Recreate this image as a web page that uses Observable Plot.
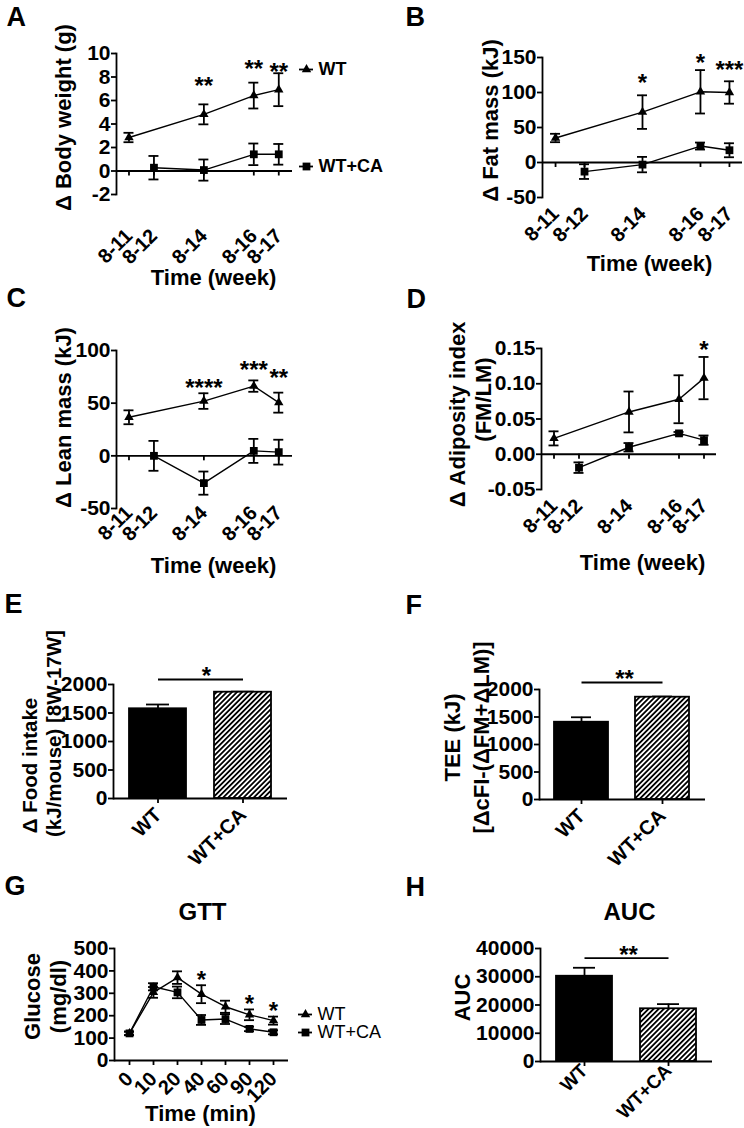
<!DOCTYPE html>
<html><head><meta charset="utf-8">
<script src="https://cdn.jsdelivr.net/npm/d3@7"></script>
<script src="https://cdn.jsdelivr.net/npm/@observablehq/plot@0.6"></script>
<style>
body{margin:0;background:#fff;}
#root{position:relative;width:744px;height:1128px;overflow:hidden;background:#fff;}
</style></head><body><div id="root"></div>
<script>
// ---------- DATA ----------
const timeLabels = ["8-11", "8-12", "8-14", "8-16", "8-17"];
const timeWeeks = [11, 12, 14, 16, 17];
const wtWeeks = [11, 14, 16, 17];
const caWeeks = [12, 14, 16, 17];
const seriesNames = ["WT", "WT+CA"];

// A: body weight (g)
const bodyWT = [2.85, 4.82, 6.42, 6.92];
const bodyWTsem = [0.4, 0.85, 1.1, 1.4];
const bodyCA = [0.28, 0.08, 1.42, 1.42];
const bodyCAsem = [1.0, 0.9, 0.92, 0.88];
const bodySigWeeks = [14, 16, 17];
const bodySigText = ["**", "**", "**"];
const bodySigY = [7.7, 9.15, 8.95];

// B: fat mass (kJ)
const fatWT = [35, 72, 101, 100];
const fatWTsem = [6, 24, 31, 16];
const fatCA = [-13, -3, 23.5, 17.5];
const fatCAsem = [10.5, 11, 5, 10];
const fatSigWeeks = [14, 16, 17];
const fatSigText = ["*", "*", "***"];
const fatSigY = [121, 150, 140];

// C: lean mass (kJ)
const leanWT = [36.6, 52, 66.2, 50.5];
const leanWTsem = [6.6, 7.4, 5.4, 9.5];
const leanCA = [0, -25.9, 4.7, 3.5];
const leanCAsem = [14.2, 11, 11.4, 11.8];
const leanSigWeeks = [14, 16, 17];
const leanSigText = ["****", "***", "**"];
const leanSigY = [69.4, 87, 79];

// D: adiposity index
const adipWT = [0.0225, 0.060, 0.078, 0.108];
const adipWTsem = [0.01, 0.029, 0.034, 0.03];
const adipCA = [-0.019, 0.0099, 0.0296, 0.020];
const adipCAsem = [0.0075, 0.006, 0.002, 0.0066];
const adipSigWeeks = [17];
const adipSigText = ["*"];
const adipSigY = [0.156];

// E: food intake
const foodVals = [1574, 1865];
const foodSems = [75, 10];
const foodSigText = "*";
const foodSigY = 2088;

// F: TEE
const teeVals = [1405, 1860];
const teeSems = [90, 12];
const teeSigText = "**";
const teeSigY = 2127;

// G: GTT
const gttTimes = [0, 10, 20, 40, 60, 90, 120];
const gttWT = [121, 304, 370, 296, 240, 204, 178];
const gttWTsem = [8, 24, 28, 40, 27, 24, 18];
const gttCA = [121, 329, 304, 181, 185, 141, 126];
const gttCAsem = [8, 16, 26, 22, 22, 10, 9];
const gttSigTimes = [40, 90, 120];
const gttSigText = ["*", "*", "*"];
const gttSigY = [385, 278, 247];

// H: AUC
const aucVals = [30180, 18660];
const aucSems = [3000, 1650];
const aucSigText = "**";
const aucSigY = 36620;

// ---------- LAYOUT ----------
const root = document.getElementById("root");
const FONT = '"Liberation Sans", Arial, Helvetica, sans-serif';
const SW = 1.8;
const YTICK_FS = 21;
const XTICK_FS = 20;

const PA = {left:0, top:0, w:372, h:280, ml:116, mr:80, mt:53, mb:86};
const PB = {left:372, top:0, w:372, h:280, ml:170, mr:2, mt:57, mb:83};
const PC = {left:0, top:280, w:372, h:280, ml:116, mr:80, mt:70, mb:52};
const PD = {left:372, top:280, w:372, h:280, ml:169, mr:28, mt:68, mb:71};
const PE = {left:0, top:560, w:372, h:280, ml:113, mr:85, mt:124, mb:42};
const PF = {left:372, top:560, w:372, h:280, ml:167, mr:39, mt:129, mb:41};
const PG = {left:0, top:840, w:372, h:288, ml:114, mr:84, mt:108, mb:68};
const PH = {left:372, top:840, w:372, h:288, ml:168, mr:32, mt:108, mb:67};

function mount(p, options) {
  const svg = Plot.plot({
    width: p.w, height: p.h,
    marginLeft: p.ml, marginRight: p.mr, marginTop: p.mt, marginBottom: p.mb,
    style: {fontFamily: FONT, fontWeight: "bold", fontSize: "20px", background: "transparent", overflow: "visible", color: "#000"},
    ...options
  });
  svg.style.position = "absolute";
  svg.style.left = p.left + "px";
  svg.style.top = p.top + "px";
  root.appendChild(svg);
}

// text placed at page position (X, Y)
function label(p, str, X, Y, o = {}) {
  return Plot.text([str], {text: d => d, frameAnchor: "top-left",
    dx: X - p.left - p.ml, dy: Y - p.top - p.mt,
    textAnchor: "middle", lineAnchor: "middle", fontSize: 22, ...o});
}
function ylabel(p, str, X, Y, o = {}) {
  return label(p, str, X, Y, {rotate: -90, ...o});
}
function letter(p, str, X, Y) {
  return label(p, str, X, Y, {textAnchor: "start", fontSize: 27});
}
function legendEntry(p, X, Y, symbol, r, text, weight) {
  const FL = p.left + p.ml, FR = p.left + p.w - p.mr, FM = p.top + (p.mt + p.h - p.mb) / 2;
  return [
    Plot.ruleY([0], {y: null, insetLeft: X - 7 - FL, insetRight: FR - (X + 7), dy: Y - FM, strokeWidth: SW}),
    Plot.dot([0], {frameAnchor: "top-left", dx: X - p.left - p.ml, dy: Y - p.top - p.mt, symbol, r, fill: "black"}),
    label(p, text, X + 12, Y, {textAnchor: "start", fontSize: 18, fontWeight: weight})
  ];
}
function rows(xs, ys, es) { return xs.map((x, i) => ({x, y: ys[i], e: es[i]})); }
function errorMarks(rs, cap) {
  return [
    Plot.ruleX(rs, {x: "x", y1: d => d.y - d.e, y2: d => d.y + d.e, strokeWidth: SW}),
    Plot.ruleY(rs, {x1: "x", x2: "x", y: d => d.y + d.e, insetLeft: -cap, insetRight: -cap, strokeWidth: SW}),
    Plot.ruleY(rs, {x1: "x", x2: "x", y: d => d.y - d.e, insetLeft: -cap, insetRight: -cap, strokeWidth: SW})
  ];
}
function seriesMarks(wt, ca) {
  return [
    ...errorMarks(wt, 5), ...errorMarks(ca, 5),
    Plot.line(wt, {x: "x", y: "y", strokeWidth: 1.4}),
    Plot.line(ca, {x: "x", y: "y", strokeWidth: 1.4}),
    Plot.dot(wt, {x: "x", y: "y", symbol: "triangle", r: 3.5, fill: "black"}),
    Plot.dot(ca, {x: "x", y: "y", symbol: "square", r: 4.4, fill: "black"})
  ];
}
const intFmt = d => String(d);
function yAxis(ticks, fmt) {
  return [
    Plot.frame({anchor: "left", strokeWidth: SW}),
    Plot.axisY({ticks, tickFormat: fmt || intFmt, tickSize: 5, tickPadding: 1, fontSize: YTICK_FS, strokeWidth: SW, label: null})
  ];
}

function linePanel(p, cfg) {
  const wt = rows(wtWeeks, cfg.wt, cfg.wtSem);
  const ca = rows(caWeeks, cfg.ca, cfg.caSem);
  const sig = cfg.sigWeeks.map((w, i) => ({x: w, t: cfg.sigText[i], y: cfg.sigY[i]}));
  mount(p, {
    x: {domain: cfg.xDomain},
    y: {domain: cfg.yDomain},
    marks: [
      Plot.ruleY([0], {strokeWidth: SW}),
      Plot.ruleX(timeWeeks, {x: d => d, y1: 0, y2: 0, insetBottom: -5, strokeWidth: SW}),
      ...seriesMarks(wt, ca),
      ...yAxis(cfg.yTicks, cfg.yFormat),
      Plot.axisX({ticks: timeWeeks, tickFormat: w => timeLabels[timeWeeks.indexOf(w)], tickSize: 0, tickPadding: cfg.xPad, tickRotate: -45, fontSize: XTICK_FS, label: null}),
      Plot.text(sig, {x: "x", y: "y", text: "t", fontSize: 24, dy: 6, dx: cfg.sigDx || 0, lineAnchor: "middle"}),
      ...cfg.extra
    ]
  });
}

function hatchDefs(id) {
  const T = 3.6;
  const defs = d3.create("svg:defs");
  const pat = defs.append("pattern").attr("id", id).attr("patternUnits", "userSpaceOnUse")
    .attr("width", T).attr("height", T).attr("patternTransform", "rotate(45)");
  pat.append("rect").attr("width", T).attr("height", T).attr("fill", "white");
  pat.append("line").attr("x1", T / 2).attr("y1", 0).attr("x2", T / 2).attr("y2", T).attr("stroke", "black").attr("stroke-width", 1.8);
  return defs.node();
}

function barPanel(p, cfg) {
  const data = seriesNames.map((g, i) => ({g, v: cfg.vals[i], e: cfg.sems[i]}));
  const hid = "hatch-" + cfg.id;
  mount(p, {
    x: {type: "band", domain: seriesNames, paddingInner: 0.33, paddingOuter: 0.18},
    y: {domain: cfg.yDomain},
    marks: [
      () => hatchDefs(hid),
      Plot.ruleX(data, {x: "g", y1: "v", y2: d => d.v + d.e, strokeWidth: SW}),
      Plot.ruleY(data, {x1: "g", x2: "g", y: d => d.v + d.e, insetLeft: 17, insetRight: 17, strokeWidth: SW}),
      Plot.barY(data.filter(d => d.g === seriesNames[0]), {x: "g", y: "v", fill: "black", stroke: "black", strokeWidth: SW}),
      Plot.barY(data.filter(d => d.g !== seriesNames[0]), {x: "g", y: "v", fill: `url(#${hid})`, stroke: "black", strokeWidth: SW}),
      Plot.ruleY([0], {strokeWidth: SW}),
      ...yAxis(cfg.yTicks),
      Plot.axisX({tickSize: 5, tickPadding: cfg.xPad, tickRotate: -45, fontSize: cfg.xFs || XTICK_FS, strokeWidth: SW, label: null}),
      Plot.link([cfg.sigY], {x1: () => seriesNames[0], x2: () => seriesNames[1], y1: d => d, y2: d => d, strokeWidth: SW}),
      Plot.text([cfg.sigText], {text: d => d, y: () => cfg.sigY, frameAnchor: "top", dx: cfg.sigDx, dy: -3, textAnchor: "middle", lineAnchor: "middle", fontSize: 24}),
      ...cfg.extra
    ]
  });
}

// ---------- PANELS ----------
linePanel(PA, {
  xDomain: [10.5, 17.55], yDomain: [-2, 10], yTicks: [-2, 0, 2, 4, 6, 8, 10], xPad: 38,
  wt: bodyWT, wtSem: bodyWTsem, ca: bodyCA, caSem: bodyCAsem,
  sigWeeks: bodySigWeeks, sigText: bodySigText, sigY: bodySigY,
  extra: [
    letter(PA, "A", 6, 17),
    ylabel(PA, "Δ Body weight (g)", 63, 117),
    label(PA, "Time (week)", 213, 277),
    ...legendEntry(PA, 306, 69, "triangle", 3.5, seriesNames[0], "bold"),
    ...legendEntry(PA, 306, 166, "square", 4.4, seriesNames[1], "bold")
  ]
});

linePanel(PB, {
  xDomain: [10.55, 17.45], yDomain: [-50, 150], yTicks: [-50, 0, 50, 100, 150], xPad: 13,
  wt: fatWT, wtSem: fatWTsem, ca: fatCA, caSem: fatCAsem,
  sigWeeks: fatSigWeeks, sigText: fatSigText, sigY: fatSigY, sigDx: 0,
  extra: [
    letter(PB, "B", 405, 17),
    ylabel(PB, "Δ Fat mass (kJ)", 490, 120),
    label(PB, "Time (week)", 649, 263)
  ]
});

linePanel(PC, {
  xDomain: [10.5, 17.55], yDomain: [-50, 100], yTicks: [-50, 0, 50, 100], xPad: 1,
  wt: leanWT, wtSem: leanWTsem, ca: leanCA, caSem: leanCAsem,
  sigWeeks: leanSigWeeks, sigText: leanSigText, sigY: leanSigY,
  extra: [
    letter(PC, "C", 6, 298),
    ylabel(PC, "Δ Lean mass (kJ)", 63, 417),
    label(PC, "Time (week)", 213, 565)
  ]
});

linePanel(PD, {
  xDomain: [10.5, 17.5], yDomain: [-0.05, 0.15], yTicks: [-0.05, 0, 0.05, 0.10, 0.15], yFormat: d => d.toFixed(2), xPad: 13,
  wt: adipWT, wtSem: adipWTsem, ca: adipCA, caSem: adipCAsem,
  sigWeeks: adipSigWeeks, sigText: adipSigText, sigY: adipSigY,
  extra: [
    letter(PD, "D", 406, 299),
    ylabel(PD, "Δ Adiposity index", 457, 414),
    ylabel(PD, "(FM/LM)", 483, 399),
    label(PD, "Time (week)", 642, 562)
  ]
});

barPanel(PE, {
  id: "e", vals: foodVals, sems: foodSems, yDomain: [0, 2000], yTicks: [0, 500, 1000, 1500, 2000],
  sigText: foodSigText, sigY: foodSigY, sigDx: 6, xPad: 8,
  extra: [
    letter(PE, "E", 4, 604),
    ylabel(PE, "Δ Food intake", 30, 765, {fontSize: 20.5}),
    ylabel(PE, "(kJ/mouse) [8W-17W]", 54, 733, {fontSize: 20.5})
  ]
});

barPanel(PF, {
  id: "f", vals: teeVals, sems: teeSems, yDomain: [0, 2000], yTicks: [0, 500, 1000, 1500, 2000],
  sigText: teeSigText, sigY: teeSigY, sigDx: 2, xPad: 8,
  extra: [
    letter(PF, "F", 405, 605),
    ylabel(PF, "TEE (kJ)", 452, 737),
    ylabel(PF, "[ΔcFI-(ΔFM+ΔLM)]", 481, 737)
  ]
});

// G: GTT
(function () {
  const wt = rows(gttTimes, gttWT, gttWTsem);
  const ca = rows(gttTimes, gttCA, gttCAsem);
  const sig = gttSigTimes.map((t, i) => ({x: t, t: gttSigText[i], y: gttSigY[i]}));
  mount(PG, {
    x: {type: "point", domain: gttTimes, padding: 0.57},
    y: {domain: [0, 500]},
    marks: [
      ...seriesMarks(wt, ca),
      Plot.ruleY([0], {strokeWidth: SW}),
      ...yAxis([0, 100, 200, 300, 400, 500]),
      Plot.axisX({tickFormat: intFmt, tickSize: 5, tickPadding: 10, tickRotate: -45, fontSize: XTICK_FS, strokeWidth: SW, label: null}),
      Plot.text(sig, {x: "x", y: "y", text: "t", fontSize: 24, dy: 6, lineAnchor: "middle"}),
      letter(PG, "G", 4, 886),
      label(PG, "GTT", 202, 912, {fontSize: 24}),
      ylabel(PG, "Glucose", 32, 996),
      ylabel(PG, "(mg/dl)", 58, 996),
      label(PG, "Time (min)", 200, 1113),
      ...legendEntry(PG, 305, 1014, "triangle", 3.5, seriesNames[0], "normal"),
      ...legendEntry(PG, 305, 1032, "square", 4.4, seriesNames[1], "normal")
    ]
  });
})();

barPanel(PH, {
  id: "h", vals: aucVals, sems: aucSems, yDomain: [0, 40000], yTicks: [0, 10000, 20000, 30000, 40000],
  sigText: aucSigText, sigY: aucSigY, sigDx: 2, xPad: 1, xFs: 19,
  extra: [
    letter(PH, "H", 405, 887),
    label(PH, "AUC", 629, 912, {fontSize: 24}),
    ylabel(PH, "AUC", 462, 997)
  ]
});
</script>
</body></html>
